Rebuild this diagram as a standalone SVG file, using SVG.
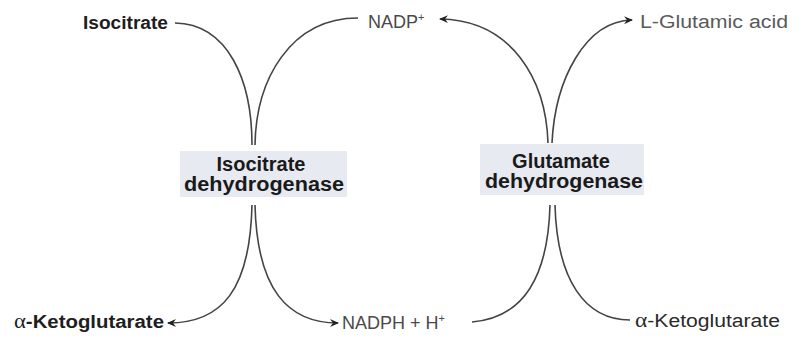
<svg xmlns="http://www.w3.org/2000/svg" width="804" height="338" viewBox="0 0 804 338">
  <defs>
    <marker id="ah" markerWidth="10" markerHeight="10" refX="8" refY="5" orient="auto" markerUnits="userSpaceOnUse">
      <path d="M0,1 L9,5 L0,9 L3,5 Z" fill="#222"/>
    </marker>
  </defs>
  <style>
    .lbl { font-family: "Liberation Sans", Arial, sans-serif; font-size: 18px; }
    .b { font-weight: bold; }
    .enz { font-family: "Liberation Sans", Arial, sans-serif; font-size: 20px; font-weight: bold; fill: #1a1a1a; text-anchor: middle; }
    .box { fill: #e8eaf1; }
    .edge { fill: none; stroke: #444; stroke-width: 1.6; }
    .arr { marker-end: url(#ah); }
    .greek { font-family: "Liberation Serif", "Times New Roman", serif; font-weight: normal; }
  </style>
  <rect width="804" height="338" fill="#ffffff"/>

  <g id="connectors">
    <path class="edge" d="M175,23 C228,24 252,80 252,145"/>
    <path class="edge" d="M358,18 C290,18 256,80 255,145"/>
    <path class="edge arr" d="M548,143 C546,80 512,20 440,19"/>
    <path class="edge arr" d="M552,143 C555,80 585,21 632,20"/>
    <path class="edge arr" d="M252,205 C250,290 222,323 168,323"/>
    <path class="edge arr" d="M255,205 C257,290 288,323 338,323"/>
    <path class="edge" d="M472,322 C522,318 548,280 550,205"/>
    <path class="edge" d="M555,205 C557,280 585,320 630,320"/>
  </g>

  <g id="isocitrate-dehydrogenase">
    <rect class="box" x="180" y="151" width="167" height="46"/>
    <text class="enz" x="261" y="171">Isocitrate</text>
    <text class="enz" x="264" y="191" textLength="160" lengthAdjust="spacingAndGlyphs">dehydrogenase</text>
  </g>

  <g id="glutamate-dehydrogenase">
    <rect class="box" x="480" y="144" width="164" height="51"/>
    <text class="enz" x="561" y="168">Glutamate</text>
    <text class="enz" x="564" y="188" textLength="158" lengthAdjust="spacingAndGlyphs">dehydrogenase</text>
  </g>

  <g id="isocitrate">
    <text class="lbl b" x="83" y="29" fill="#1e1e1e" textLength="85" lengthAdjust="spacingAndGlyphs">Isocitrate</text>
  </g>

  <g id="nadp">
    <text class="lbl" x="368" y="28" fill="#4a4a4a">NADP<tspan font-size="11" dy="-7">+</tspan></text>
  </g>

  <g id="l-glutamic-acid">
    <text class="lbl" x="640" y="28" fill="#5a5a5a" textLength="148" lengthAdjust="spacingAndGlyphs">L-Glutamic acid</text>
  </g>

  <g id="alpha-ketoglutarate-left">
    <text class="lbl b" x="14" y="328" fill="#1e1e1e" textLength="150" lengthAdjust="spacingAndGlyphs"><tspan class="greek" font-size="20">α</tspan>-Ketoglutarate</text>
  </g>

  <g id="nadph">
    <text class="lbl" x="342" y="329" fill="#4a4a4a">NADPH + H<tspan font-size="11" dy="-7">+</tspan></text>
  </g>

  <g id="alpha-ketoglutarate-right">
    <text class="lbl" x="635" y="327" fill="#2a2a2a" textLength="145" lengthAdjust="spacingAndGlyphs"><tspan class="greek" font-size="20">α</tspan>-Ketoglutarate</text>
  </g>
</svg>
